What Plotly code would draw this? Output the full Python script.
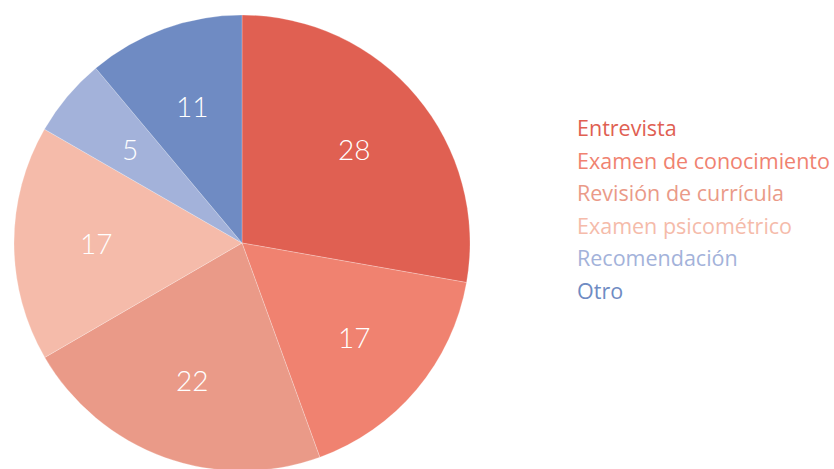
import math
import plotly.graph_objects as go

categories = ["Entrevista", "Examen de conocimiento", "Revisión de currícula",
              "Examen psicométrico", "Recomendación", "Otro"]
shares = [27.8, 16.7, 22.2, 16.7, 5.6, 11.1]   # slice sizes (%)
labels = [28, 17, 22, 17, 5, 11]                # numbers printed on the slices
colors = ["#E06052", "#F08270", "#EA9A88", "#F5BBAA", "#A3B2DA", "#6F8BC3"]

W, H = 834, 471
ML, MT, MB = 14, 15, 0
plot_w, plot_h = W - ML, H - MT - MB
R = plot_h / 2
CX, CY = ML + R, MT + R  # figure px


def to_paper(xpage, ypage):
    return (xpage - ML) / plot_w, 1 - (ypage - MT) / plot_h


fig = go.Figure(go.Pie(
    labels=categories, values=shares, sort=False, direction="clockwise",
    rotation=0, textinfo="none", customdata=labels,
    marker=dict(colors=colors, line=dict(color="rgba(255,255,255,0.4)", width=0.6)),
    domain=dict(x=[0, (2 * R) / plot_w], y=[0, 1]),
    showlegend=False, hovertemplate="%{label}: %{customdata}<extra></extra>",
))

annotations = []
total = sum(shares)
cum = 0
for v, lab in zip(shares, labels):
    mid = (cum + v / 2) / total * 2 * math.pi
    cum += v
    fx = CX + 0.64 * R * math.sin(mid)
    fy = CY - 0.64 * R * math.cos(mid)
    px, py = to_paper(fx, fy)
    annotations.append(dict(
        x=px, y=py, xref="paper", yref="paper",
        xanchor="center", yanchor="middle", showarrow=False, text=str(lab),
        font=dict(family="Lato", size=28, color="white", weight=300),
    ))

for i, (c, col) in enumerate(zip(categories, colors)):
    px, py = to_paper(575, 128 + i * 32.4)
    annotations.append(dict(
        x=px, y=py, xref="paper", yref="paper",
        xanchor="left", yanchor="middle", showarrow=False, text=c,
        font=dict(family="Open Sans", size=21.5, color=col),
    ))

fig.update_layout(
    width=W, height=H, margin=dict(l=ML, r=0, t=MT, b=MB),
    paper_bgcolor="white", plot_bgcolor="white",
    annotations=annotations,
)
fig.write_html("out.html", config={"displayModeBar": False},
               post_script="document.body.style.margin='0';document.body.style.overflow='hidden';")
